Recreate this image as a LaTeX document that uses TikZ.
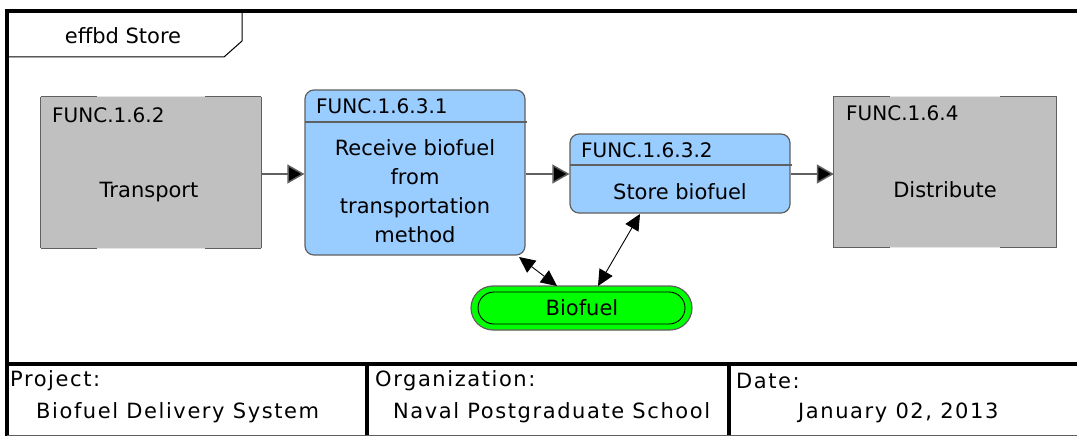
\documentclass[tikz,border=0pt]{standalone}
\usepackage{fontspec}
\setmainfont{DejaVu Sans}
\newfontfamily\tablefont[LetterSpace=7.5]{DejaVu Sans}
\usetikzlibrary{arrows.meta}
\definecolor{boxgrey}{HTML}{C0C0C0}
\definecolor{edgegrey}{HTML}{606060}
\definecolor{lightedge}{HTML}{E4E4E4}
\definecolor{fnblue}{HTML}{99CCFF}
\definecolor{fngreen}{HTML}{00FF00}
\tikzset{
  txt/.style={font=\fontsize{21}{25}\selectfont, inner sep=0pt, text=black},
  idtxt/.style={font=\fontsize{20}{24}\selectfont, inner sep=0pt, text=black, anchor=west},
  tbltxt/.style={font=\tablefont\fontsize{21}{25}\selectfont, inner sep=0pt, text=black, anchor=west},
  greybox/.style={fill=boxgrey, inner sep=0pt, minimum width=220pt, minimum height=151pt},
  greyedge/.style={draw=edgegrey, line width=1.2pt},
  bluebox/.style={draw=edgegrey, line width=1.2pt, fill=fnblue, rounded corners=9pt, inner sep=0pt, minimum width=220pt},
  flow/.style={draw=edgegrey, line width=1.5pt, -{Triangle[length=17pt,width=19pt,fill=black]}},
  resarrow/.style={draw=black, line width=0.9pt, {Triangle[length=16pt,width=15pt]}-{Triangle[length=16pt,width=15pt]}},
  frameline/.style={draw=black, line width=3.5pt},
}
\begin{document}
\begin{tikzpicture}[x=1pt,y=-1pt]
\useasboundingbox (0,0) rectangle (1077,436);
% frame
\draw[frameline] (7,11) -- (1077,11);
\draw[frameline] (7,9.25) -- (7,436);
\draw[frameline] (5.25,364) -- (1077,364);
\draw[frameline] (367,364) -- (367,436);
\draw[frameline] (729,364) -- (729,436);
\draw[edgegrey, line width=1.5pt] (7,435.25) -- (1077,435.25);
% title tab
\draw[black, line width=1pt] (7,11) -- (242,11) -- (242,41) -- (224,57) -- (7,57);
\node[txt] (title) at (123,36) {effbd Store};

% Transport
\node[greybox] (t) at (151,172.5) {};
\draw[lightedge, line width=1.2pt] (t.north west) -- (t.north east) (t.south west) -- (t.south east);
\draw[greyedge] (t.north west) -- (t.south west);
\draw[greyedge] (t.north east) -- (t.south east);
\draw[greyedge] (t.north west) -- ++(56,0) (t.north east) -- ++(-56,0);
\draw[greyedge] (t.south west) -- ++(56,0) (t.south east) -- ++(-56,0);
\node[idtxt] (tid) at (52,115) {FUNC.1.6.2};
\node[txt] (tname) at (149,192) {Transport};

% Receive
\node[bluebox, minimum height=165pt] (r) at (415,172.5) {};
\draw[edgegrey, line width=1.2pt] (305,122) -- (527,122);
\node[idtxt] (rid) at (316,106) {FUNC.1.6.3.1};
\node[txt, align=center, font=\fontsize{21}{29}\selectfont] (rname) at (415,191) {Receive biofuel\\from\\transportation\\method};

% Store
\node[bluebox, minimum height=79pt] (s) at (680,173.5) {};
\draw[edgegrey, line width=1.2pt] (570,165) -- (792,165);
\node[idtxt] (sid) at (581,150) {FUNC.1.6.3.2};
\node[txt] (sname) at (680,192) {Store biofuel};

% Distribute
\node[greybox, minimum width=222pt] (d) at (945,172) {};
\draw[lightedge, line width=1.2pt] (d.north west) -- (d.north east) (d.south west) -- (d.south east);
\draw[greyedge] (d.north west) -- (d.south west);
\draw[greyedge] (d.north east) -- (d.south east);
\draw[greyedge] (d.north west) -- ++(56,0) (d.north east) -- ++(-56,0);
\draw[greyedge] (d.south west) -- ++(56,0) (d.south east) -- ++(-56,0);
\node[idtxt] (did) at (846,113) {FUNC.1.6.4};
\node[txt] (dname) at (945,190) {Distribute};

% Biofuel resource
\node[draw=edgegrey, line width=1.2pt, fill=fngreen, rounded corners=22pt, minimum width=221pt, minimum height=44pt, inner sep=0pt] (bf) at (581.5,308) {};
\node[draw=black, line width=0.9pt, rounded corners=16pt, minimum width=207pt, minimum height=32pt, inner sep=0pt] (bfin) at (581.5,308) {};
\node[txt] (bft) at (582,308) {Biofuel};

% flow arrows
\draw[flow] (t.east |- 0,174) -- (r.west |- 0,174);
\draw[flow] (r.east |- 0,174) -- (s.west |- 0,174);
\draw[flow] (s.east |- 0,174) -- (d.west |- 0,174);

% resource arrows
\coordinate (ra) at (519,257);
\coordinate (rb) at (557,286);
\coordinate (sa) at (640,214);
\coordinate (sb) at (598,286);
\draw[resarrow] (ra) -- (rb);
\draw[resarrow] (sa) -- (sb);

% table
\node[tbltxt] (pl) at (10,381) {Project:};
\node[tbltxt] (pv) at (36,413) {Biofuel Delivery System};
\node[tbltxt] (ol) at (375,381) {Organization:};
\node[tbltxt] (ov) at (393,413) {Naval Postgraduate School};
\node[tbltxt] (dl) at (736,381) {Date:};
\node[tbltxt] (dv) at (798,413) {January 02, 2013};
\end{tikzpicture}
\end{document}
